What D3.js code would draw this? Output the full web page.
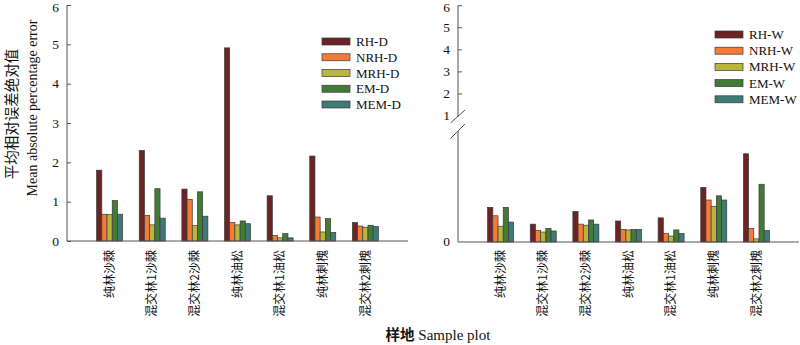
<!DOCTYPE html>
<html><head><meta charset="utf-8">
<script src="https://cdn.jsdelivr.net/npm/d3@7"></script>
<style>body{margin:0;background:#fff}svg{display:block}</style>
</head><body>
<svg id="c" width="800" height="345"></svg>
<script>
const categories = ["纯林沙棘","混交林1沙棘","混交林2沙棘","纯林油松","混交林1油松","纯林刺槐","混交林2刺槐"];
const seriesD = ["RH-D","NRH-D","MRH-D","EM-D","MEM-D"];
const seriesW = ["RH-W","NRH-W","MRH-W","EM-W","MEM-W"];
const colors = ["#6c2323","#f47c36","#bab63c","#417b35","#3e7a77"];
// values per series (rows) x category (cols)
const valuesD = [
  [1.80,2.30,1.32,4.91,1.15,2.16,0.47],
  [0.68,0.65,1.06,0.47,0.14,0.61,0.38],
  [0.67,0.41,0.39,0.41,0.08,0.23,0.35],
  [1.03,1.33,1.25,0.51,0.19,0.57,0.40],
  [0.68,0.58,0.63,0.44,0.08,0.22,0.37]
];
const valuesW = [
  [0.33,0.17,0.29,0.20,0.23,0.52,0.84],
  [0.25,0.11,0.17,0.12,0.08,0.40,0.13],
  [0.15,0.095,0.16,0.115,0.057,0.34,0.03],
  [0.33,0.13,0.21,0.12,0.115,0.44,0.55],
  [0.19,0.105,0.17,0.12,0.08,0.40,0.11]
];
const ticksLeft = [0,1,2,3,4,5,6];
const ticksRightUpper = [1,2,3,4,5,6];
const ticksRightLower = [0];

const svg = d3.select("#c");
const serif = "'Liberation Serif','Times New Roman',serif";
const cjk = "'Noto Sans CJK SC','Noto Sans CJK JP',sans-serif";
const axisColor = "#555";
const textColor = "#111";

function panel(x0, x1, values, series, yScaleFor, legendPos) {
  const step = (x1 - x0) / (categories.length + 1);
  const xb = d3.scaleBand().domain(categories).range([x0 + step/2, x1 - step/2]).paddingInner(0).paddingOuter(0);
  const groupW = 26;
  const xs = d3.scaleBand().domain(series).range([-groupW/2, groupW/2]);
  const g = svg.append("g");
  series.forEach((s, si) => {
    g.selectAll(null).data(values[si]).enter().append("rect")
      .attr("x", (d, ci) => xb(categories[ci]) + xb.bandwidth()/2 + xs(s))
      .attr("width", xs.bandwidth())
      .attr("y", d => yScaleFor(d))
      .attr("height", d => yScaleFor(0) - yScaleFor(d))
      .attr("fill", colors[si])
      .attr("stroke", "#3a3a3a").attr("stroke-width", 0.7);
  });
  const y0 = yScaleFor(0);
  g.append("line").attr("x1", x0).attr("x2", x1).attr("y1", y0).attr("y2", y0)
    .attr("stroke", axisColor).attr("stroke-width", 1);
  g.selectAll(null).data(categories).enter().append("text")
    .attr("transform", d => `translate(${xb(d) + xb.bandwidth()/2},250) rotate(-90)`)
    .attr("text-anchor", "end").attr("dy", "0.35em")
    .attr("font-family", cjk).attr("font-size", 12).attr("fill", textColor)
    .text(d => d);
  const lg = svg.append("g");
  series.forEach((s, si) => {
    const cy = legendPos.y + legendPos.dy * si;
    lg.append("rect").attr("x", legendPos.x).attr("y", cy - 3.5).attr("width", 28).attr("height", 7)
      .attr("fill", colors[si]).attr("stroke", "#3a3a3a").attr("stroke-width", 0.7);
    lg.append("text").attr("x", legendPos.x + 34).attr("y", cy + 4.5)
      .attr("font-family", serif).attr("font-size", 13).attr("fill", textColor).text(s);
  });
}

// Left panel
const yL = d3.scaleLinear().domain([0, 6]).range([241, 5]);
panel(67, 408, valuesD, seriesD, yL, {x: 322, y: 41.5, dy: 15.75});
const axL = d3.axisLeft(yL).tickValues(ticksLeft).tickFormat(d3.format("d"))
  .tickSizeInner(-4).tickSizeOuter(0).tickPadding(8);
const gL = svg.append("g").attr("transform", "translate(67,0)").call(axL);
gL.select(".domain").attr("stroke", axisColor).attr("d", `M0,${yL(6)}V${yL(0)}`);
gL.selectAll(".tick line").attr("stroke", axisColor).attr("x2", 4);
gL.selectAll(".tick text").attr("font-family", serif).attr("font-size", 13.5).attr("fill", textColor)
  .attr("dy", d => d === 6 ? "0.5em" : "0.32em");

// Right panel with broken axis
const yRl = d3.scaleLinear().domain([0, 1]).range([242, 137]);
const yRu = d3.scaleLinear().domain([1, 6]).range([116, 5.7]);
panel(458, 799, valuesW, seriesW, yRl, {x: 715, y: 34.5, dy: 16.2});
const gR = svg.append("g").attr("transform", "translate(458,0)");
gR.append("line").attr("x1", 0).attr("x2", 0).attr("y1", yRu(6)).attr("y2", yRu(1) + 1).attr("stroke", axisColor);
gR.append("line").attr("x1", 0).attr("x2", 0).attr("y1", 131).attr("y2", yRl(0)).attr("stroke", axisColor);
gR.append("line").attr("x1", -7.5).attr("x2", 7).attr("y1", yRu(1) + 7).attr("y2", yRu(1) - 6).attr("stroke", axisColor);
gR.append("line").attr("x1", -7.5).attr("x2", 7).attr("y1", 138.5).attr("y2", 124).attr("stroke", axisColor);
gR.selectAll(".tu").data(ticksRightUpper.filter(t => t > 1)).enter().append("line")
  .attr("x1", 0).attr("x2", 4).attr("y1", d => yRu(d)).attr("y2", d => yRu(d)).attr("stroke", axisColor);
gR.selectAll(".tlu").data(ticksRightUpper).enter().append("text")
  .attr("x", -8).attr("y", d => yRu(d)).attr("dy", d => d === 6 ? "0.5em" : "0.32em").attr("text-anchor", "end")
  .attr("font-family", serif).attr("font-size", 13.5).attr("fill", textColor).text(d => d);
gR.selectAll(".tll").data(ticksRightLower).enter().append("text")
  .attr("x", -8).attr("y", d => yRl(d)).attr("dy", "0.32em").attr("text-anchor", "end")
  .attr("font-family", serif).attr("font-size", 13.5).attr("fill", textColor).text(d => d);

// Y axis titles
svg.append("text").attr("transform", "translate(12,114) rotate(-90)").attr("text-anchor", "middle")
  .attr("dy", "0.35em").attr("font-family", cjk).attr("font-size", 14.5).attr("fill", textColor).text("平均相对误差绝对值");
svg.append("text").attr("transform", "translate(32,108) rotate(-90)").attr("text-anchor", "middle")
  .attr("dy", "0.35em").attr("font-family", serif).attr("font-size", 14).attr("fill", textColor).text("Mean absolute percentage error");

// X axis title
const xt = svg.append("text").attr("x", 438).attr("y", 340).attr("text-anchor", "middle").attr("fill", textColor);
xt.append("tspan").attr("font-family", cjk).attr("font-weight", "bold").attr("font-size", 14.5).text("样地");
xt.append("tspan").attr("font-family", serif).attr("font-size", 15).text(" Sample plot");
</script>
</body></html>
